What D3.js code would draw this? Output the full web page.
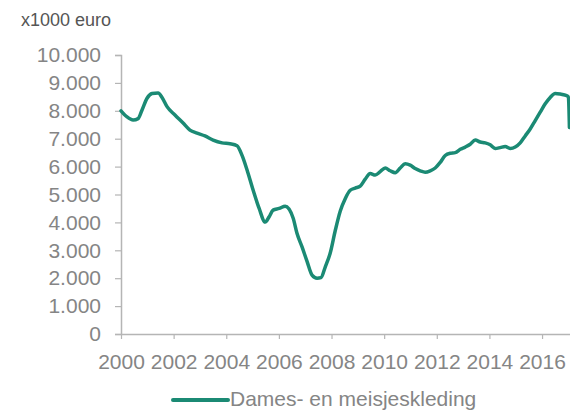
<!DOCTYPE html>
<html>
<head>
<meta charset="utf-8">
<script src="https://cdn.jsdelivr.net/npm/d3@7"></script>
<style>
  body { margin: 0; background: #fff; }
  svg { display: block; font-family: "Liberation Sans", Arial, sans-serif; }
</style>
</head>
<body>
<svg id="chart" width="570" height="412"></svg>
<script>
// tijdstip (decimaal jaar) en omzet x1000 euro
const years = [
  2000.00, 2000.23, 2000.46, 2000.65, 2000.80, 2000.99, 2001.18, 2001.41, 2001.56, 2001.75,
  2002.05, 2002.36, 2002.62, 2002.89, 2003.19, 2003.50, 2003.84, 2004.14, 2004.41, 2004.60,
  2004.79, 2005.02, 2005.25, 2005.48, 2005.63, 2005.78, 2006.01, 2006.24, 2006.54, 2006.69,
  2006.88, 2007.07, 2007.26, 2007.45, 2007.60, 2007.76, 2007.95, 2008.14, 2008.33, 2008.52,
  2008.71, 2008.90, 2009.09, 2009.28, 2009.47, 2009.66, 2009.85, 2010.04, 2010.23, 2010.42,
  2010.61, 2010.80, 2010.99, 2011.18, 2011.37, 2011.56, 2011.75, 2011.94, 2012.13, 2012.32,
  2012.51, 2012.70, 2012.89, 2013.08, 2013.27, 2013.46, 2013.65, 2013.84, 2014.03, 2014.22,
  2014.41, 2014.60, 2014.79, 2014.98, 2015.17, 2015.36, 2015.55, 2015.74, 2015.93, 2016.12,
  2016.31, 2016.50, 2016.69, 2016.88, 2017.00, 2017.04
];
const values = [
  8000, 7780, 7670, 7720, 8030, 8450, 8620, 8640, 8480, 8150,
  7850, 7560, 7310, 7200, 7100, 6950, 6850, 6820, 6750, 6400,
  5880, 5160, 4500, 4010, 4200, 4440, 4500, 4580, 4160, 3600,
  3120, 2600, 2110, 2000, 2020, 2400, 2900, 3700, 4400, 4850,
  5150, 5230, 5300, 5550, 5750, 5700, 5820, 5950, 5850, 5780,
  5950, 6100, 6050, 5930, 5850, 5800, 5850, 5950, 6150, 6400,
  6480, 6500, 6620, 6700, 6800, 6950, 6880, 6850, 6780, 6650,
  6680, 6720, 6650, 6700, 6850, 7100, 7350, 7650, 7950, 8250,
  8480, 8620, 8600, 8560, 8500, 7400
];
const yTicks = [0, 1000, 2000, 3000, 4000, 5000, 6000, 7000, 8000, 9000, 10000];
const xTicks = [2000, 2002, 2004, 2006, 2008, 2010, 2012, 2014, 2016];
const seriesName = "Dames- en meisjeskleding";
const unitLabel = "x1000 euro";

const lineColor = "#1b8a74";
const axisColor = "#b5b5b5";
const labelColor = "#858585";

const svg = d3.select("#chart");
const plotLeft = 121, plotRight = 571, plotTop = 55, plotBottom = 334;

const x = d3.scaleLinear().domain([2000, 2017.1]).range([plotLeft, plotRight]);
const y = d3.scaleLinear().domain([0, 10000]).range([plotBottom, plotTop]);

const nl = d3.formatLocale({ decimal: ",", thousands: ".", grouping: [3], currency: ["€", ""] });
const fmt = nl.format(",");

// titel
svg.append("text")
  .attr("x", 21).attr("y", 26)
  .attr("font-size", 18)
  .attr("fill", "#555")
  .text(unitLabel);

// y-as
const yAxis = svg.append("g")
  .attr("transform", `translate(${plotLeft},0)`)
  .call(d3.axisLeft(y).tickValues(yTicks).tickFormat(fmt).tickSize(6).tickPadding(14));

// x-as
const xAxis = svg.append("g")
  .attr("transform", `translate(0,${plotBottom})`)
  .call(d3.axisBottom(x).tickValues(xTicks).tickFormat(d3.format("d")).tickSize(5).tickPadding(15));
xAxis.select(".domain").attr("d", `M${plotLeft},0.5H570`);

[yAxis, xAxis].forEach(g => {
  g.select(".domain").attr("stroke", axisColor).attr("stroke-width", 1.5);
  g.selectAll(".tick line").attr("stroke", axisColor).attr("stroke-width", 1.2);
  g.selectAll(".tick text")
    .attr("fill", labelColor)
    .attr("font-size", 21)
    .attr("font-family", "Liberation Sans, Arial, sans-serif");
});

// lijn
const data = years.map((t, i) => ({ t, v: values[i] }));
const line = d3.line().x(d => x(d.t)).y(d => y(d.v)).curve(d3.curveMonotoneX);

svg.append("path")
  .datum(data)
  .attr("fill", "none")
  .attr("stroke", lineColor)
  .attr("stroke-width", 3.5)
  .attr("stroke-linejoin", "round")
  .attr("stroke-linecap", "round")
  .attr("d", line);

// legenda
const legend = svg.append("g");
legend.append("line")
  .attr("x1", 173).attr("x2", 228)
  .attr("y1", 400).attr("y2", 400)
  .attr("stroke", lineColor)
  .attr("stroke-width", 4)
  .attr("stroke-linecap", "round");
legend.append("text")
  .attr("x", 230).attr("y", 406)
  .attr("font-size", 21)
  .attr("fill", labelColor)
  .text(seriesName);
</script>
</body>
</html>
